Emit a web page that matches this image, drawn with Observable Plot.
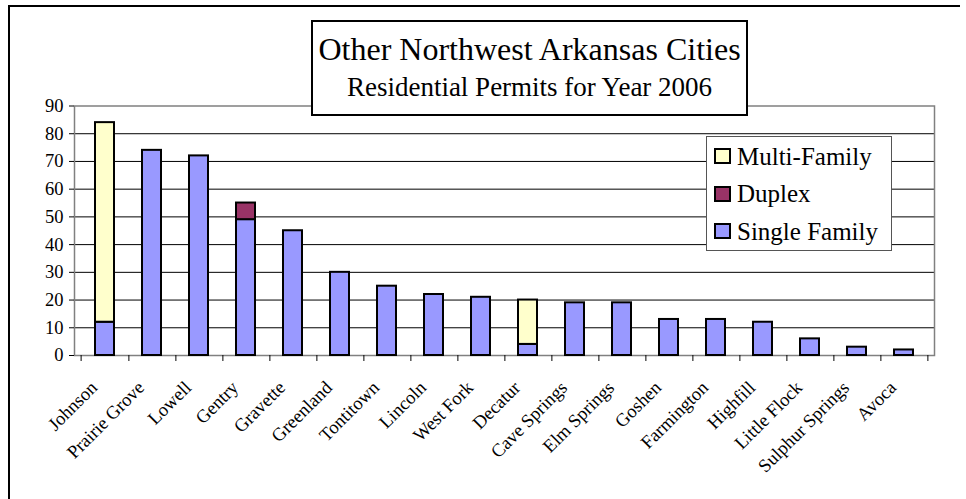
<!DOCTYPE html>
<html>
<head>
<meta charset="utf-8">
<script src="https://cdn.jsdelivr.net/npm/d3@7"></script>
<script src="https://cdn.jsdelivr.net/npm/@observablehq/plot@0.6"></script>
<style>
  html, body { margin: 0; padding: 0; background: #fff; overflow: hidden; }
  #wrap { position: relative; width: 966px; height: 499px; overflow: hidden; font-family: "Liberation Serif", "Times New Roman", Times, serif; }
  #frameL { position: absolute; left: 8px; top: 5px; width: 2px; height: 494px; background: #000; pointer-events: none; }
  #frameT { position: absolute; left: 8px; top: 5px; width: 952px; height: 2px; background: #000; pointer-events: none; }
  #titlebox { position: absolute; left: 311px; top: 20px; width: 437px; height: 96px; border: 2px solid #000; background: #fff; box-sizing: border-box; }
  .tline { position: absolute; left: 0; width: 100%; text-align: center; white-space: nowrap; color: #000; font-family: "Liberation Serif", "Times New Roman", Times, serif; }
  #legend { position: absolute; left: 706px; top: 136px; width: 186px; height: 115px; border: 1px solid #555; background: #fff; box-sizing: border-box; }
  .litem { position: absolute; left: 0; white-space: nowrap; font-size: 25px; line-height: 25px; color: #000; font-family: "Liberation Serif", "Times New Roman", Times, serif; }
  .sw { position: absolute; width: 17px; height: 16px; border: 2px solid #000; box-sizing: border-box; }
</style>
</head>
<body>
<div id="wrap">
  <div id="chart"></div>
  <div id="frameL"></div>
  <div id="frameT"></div>
  <div id="titlebox"></div>
  <div id="legend"></div>
</div>
<script>
const cities = ["Johnson","Prairie Grove","Lowell","Gentry","Gravette","Greenland","Tontitown","Lincoln","West Fork","Decatur","Cave Springs","Elm Springs","Goshen","Farmington","Highfill","Little Flock","Sulphur Springs","Avoca"];
const singleFamily = [12,74,72,49,45,30,25,22,21,4,19,19,13,13,12,6,3,2];
const duplex       = [0,0,0,6,0,0,0,0,0,0,0,0,0,0,0,0,0,0];
const multiFamily  = [72,0,0,0,0,0,0,0,0,16,0,0,0,0,0,0,0,0];
const seriesNames = ["Single Family","Duplex","Multi-Family"];
const seriesColors = ["#9999FF","#993366","#FFFFCC"];
const yTicks = [0,10,20,30,40,50,60,70,80,90];
const gridTicks = [10,20,30,40,50,60,70,80];
const titleText = "Other Northwest Arkansas Cities";
const subtitleText = "Residential Permits for Year 2006";

const seriesValues = [singleFamily, duplex, multiFamily];
const rows = [];
seriesNames.forEach((s, si) => {
  cities.forEach((c, ci) => {
    const v = seriesValues[si][ci];
    if (v > 0) rows.push({city: c, series: s, value: v});
  });
});

const W = 966, H = 499;
const mL = 74, mR = 32, mT = 105.5, mB = 144;
const step = (W - mL - mR) / cities.length;
const font = '"Liberation Serif", "Times New Roman", Times, serif';

const chart = Plot.plot({
  width: W,
  height: H,
  marginLeft: mL,
  marginRight: mR,
  marginTop: mT,
  marginBottom: mB,
  style: {background: "transparent", fontFamily: font, color: "#000"},
  x: {domain: cities, paddingInner: 0.6, paddingOuter: 0.3, axis: null},
  y: {domain: [0, 90], axis: null},
  color: {domain: seriesNames, range: seriesColors},
  marks: [
    Plot.gridY(gridTicks, {stroke: "#000", strokeOpacity: 1, strokeWidth: 1}),
    Plot.frame({stroke: "#808080", strokeWidth: 1.5}),
    Plot.axisY({ticks: yTicks, tickSize: 5, tickPadding: 6, fontSize: 18.5, fontFamily: font, stroke: "#000", tickFormat: d => d, label: null}),
    Plot.ruleX(cities, {x: d => d, dx: step / 2, y1: 0, y2: 0, insetBottom: -6, stroke: "#000"}),
    Plot.ruleX([cities[0]], {x: d => d, dx: -step / 2, y1: 0, y2: 0, insetBottom: -6, stroke: "#000"}),
    Plot.rectY(rows, Plot.stackY({x: "city", y: "value", fill: "series", stroke: "#000", strokeWidth: 2})),
    Plot.text(cities, {x: d => d, frameAnchor: "bottom", text: d => d, rotate: -45, textAnchor: "end", lineAnchor: "top", dx: -16, dy: 24, fontSize: 18.5, fontFamily: font, fill: "#000"})
  ]
});
document.getElementById("chart").appendChild(chart);

// title box
const tb = document.getElementById("titlebox");
[[titleText, 32, 11.2], [subtitleText, 27, 52.4]].forEach(([t, fs, top]) => {
  const d = document.createElement("div");
  d.className = "tline";
  d.style.fontSize = fs + "px";
  d.style.lineHeight = fs + "px";
  d.style.top = top + "px";
  d.textContent = t;
  tb.appendChild(d);
});

// legend
const lg = document.getElementById("legend");
const legendOrder = [2, 1, 0];
legendOrder.forEach((si, k) => {
  const sw = document.createElement("div");
  sw.className = "sw";
  sw.style.left = "7px";
  sw.style.top = (11 + k * 37.7) + "px";
  sw.style.background = seriesColors[si];
  lg.appendChild(sw);
  const t = document.createElement("div");
  t.className = "litem";
  t.style.left = "30px";
  t.style.top = (6.5 + k * 37.7) + "px";
  t.textContent = seriesNames[si];
  lg.appendChild(t);
});
</script>
</body>
</html>
